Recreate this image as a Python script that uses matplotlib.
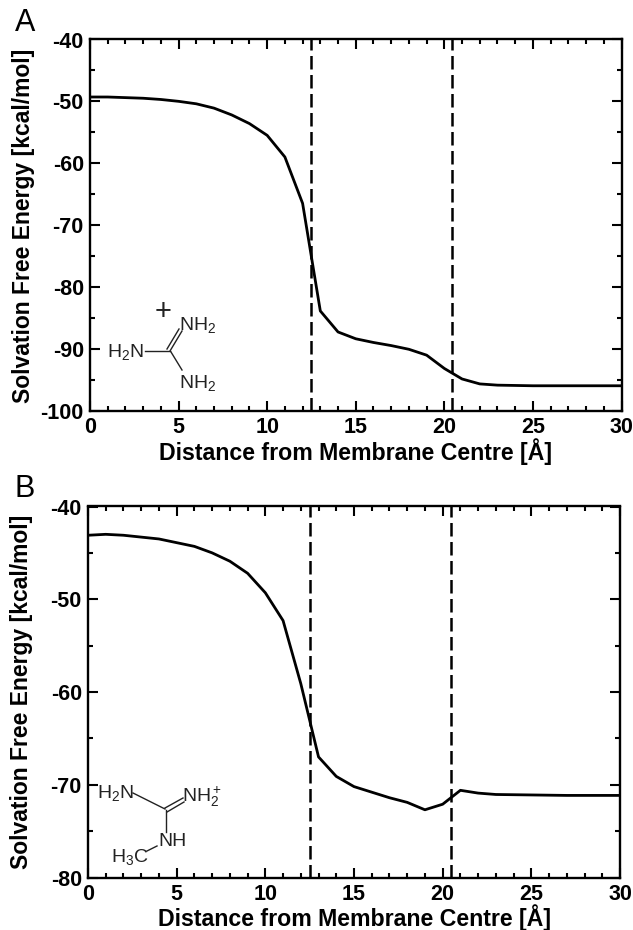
import matplotlib
matplotlib.use("Agg")
import matplotlib.pyplot as plt
from matplotlib.lines import Line2D
from matplotlib.ticker import MultipleLocator

W, H = 633, 930

distance = [0, 1, 2, 3, 4, 5, 6, 7, 8, 9, 10, 11, 12, 13, 14, 15, 16, 17, 18, 19, 20, 21, 22, 23, 25, 27, 30]
energy_a = [-49.3, -49.3, -49.4, -49.5, -49.7, -50.0, -50.4, -51.1, -52.2, -53.6, -55.5, -59.0, -66.5, -83.9,
            -87.3, -88.4, -89.0, -89.5, -90.1, -91.05, -93.2, -94.9, -95.7, -95.9, -96.0, -96.0, -96.0]
energy_b = [-43.1, -43.0, -43.1, -43.3, -43.5, -43.9, -44.3, -45.0, -45.9, -47.2, -49.3, -52.3, -59.1, -67.0,
            -69.1, -70.2, -70.8, -71.4, -71.9, -72.7, -72.1, -70.6, -70.9, -71.05, -71.1, -71.15, -71.15]
membrane_edges = [12.5, 20.45]

xlabel = "Distance from Membrane Centre [Å]"
ylabel = "Solvation Free Energy [kcal/mol]"

plt.rcParams['font.family'] = ['Liberation Sans', 'DejaVu Sans']
plt.rcParams['mathtext.default'] = 'regular'
plt.rcParams['axes.unicode_minus'] = False

fig = plt.figure(figsize=(W / 100, H / 100), dpi=100)


def make_panel(left, right, top, bottom, y, ymin, letter, letter_xy, ylabel_xy, xlabel_y):
    ax = fig.add_axes([left / W, 1 - bottom / H, (right - left) / W, (bottom - top) / H])
    ax.plot(distance, y, color='black', lw=2.0)
    for e in membrane_edges:
        ax.axvline(e, color='black', lw=1.8, dashes=(5.4, 2.2))
    ax.set_xlim(0, 30)
    ax.set_ylim(ymin, -40)
    ax.xaxis.set_major_locator(MultipleLocator(5))
    ax.xaxis.set_minor_locator(MultipleLocator(1))
    ax.yaxis.set_major_locator(MultipleLocator(10))
    ax.yaxis.set_minor_locator(MultipleLocator(5))
    ax.tick_params(which='both', direction='in', top=True, right=True, width=1.5)
    ax.tick_params(which='major', length=7, labelsize=15.5)
    ax.tick_params(axis='x', which='major', pad=4.5)
    ax.tick_params(axis='y', which='major', pad=4.5)
    ax.tick_params(which='minor', length=3.5)
    for lab in ax.get_xticklabels() + ax.get_yticklabels():
        lab.set_fontweight('bold')
    for s in ax.spines.values():
        s.set_linewidth(1.7)
    fig.text((left + right) / 2 / W, 1 - xlabel_y / H, xlabel, fontsize=16.7, fontweight='bold',
             ha='center', va='center')
    fig.text(ylabel_xy[0] / W, 1 - ylabel_xy[1] / H, ylabel, fontsize=16.5, fontweight='bold',
             rotation=90, ha='center', va='center')
    fig.text(letter_xy[0] / W, 1 - letter_xy[1] / H, letter, fontsize=22, ha='center', va='center')
    return ax


def bond(x0, y0, x1, y1):
    fig.add_artist(Line2D([x0 / W, x1 / W], [1 - y0 / H, 1 - y1 / H], color='#222222', lw=1.0,
                          transform=fig.transFigure))


def atom(x, y, s, size=14):
    fig.text(x / W, 1 - y / H, s, fontsize=size, color='#222222', ha='center', va='center')


make_panel(90, 621.5, 39.5, 410.5, energy_a, -100, "A", (25, 23), (24, 226), 452)
make_panel(88, 620, 506.5, 877.5, energy_b, -80, "B", (25, 489), (22, 692), 918)

# guanidinium sketch, panel A
atom(125, 352, "H$_2$N")
atom(198, 325, "NH$_2$")
atom(198, 383, "NH$_2$")
atom(163, 312, "+", size=21)
bond(145, 351, 170, 351)
bond(170, 351, 182, 331)
bond(167, 349, 179, 329)
bond(171, 352, 182, 370)

# methylguanidinium sketch, panel B
atom(115, 793, "H$_2$N")
atom(202, 797, "NH$_2^+$")
atom(172, 841, "NH")
atom(130, 857, "H$_3$C")
bond(133, 793, 165, 809)
bond(165, 808, 183, 798)
bond(167, 812, 184, 802)
bond(166, 810, 166, 832)
bond(147, 851, 157, 846)

fig.savefig("out.png", dpi=100)
